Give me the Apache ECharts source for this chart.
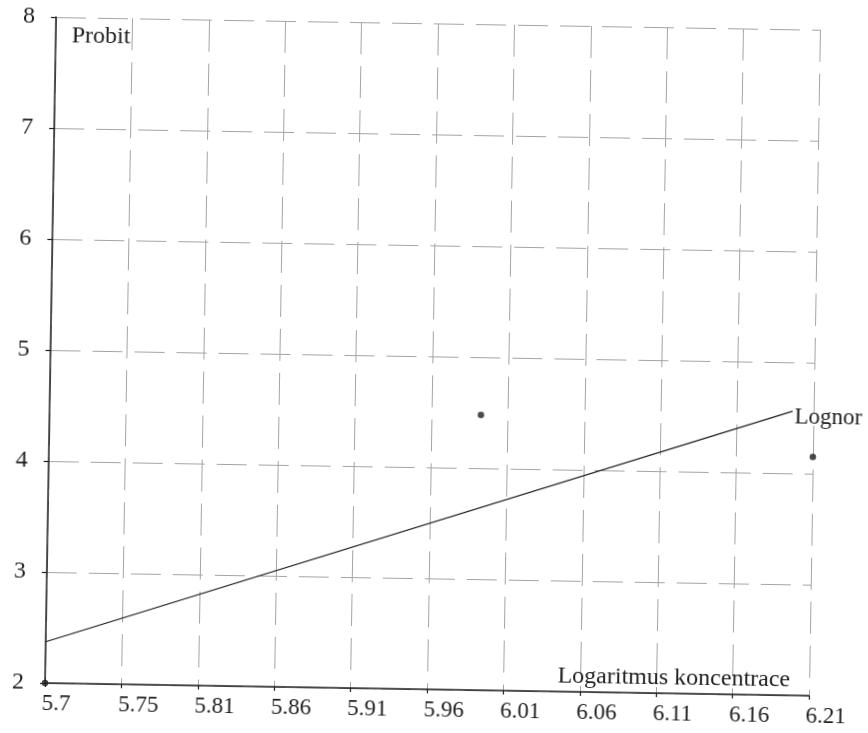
<!DOCTYPE html>
<html>
<head>
<meta charset="utf-8">
<script src="https://cdn.jsdelivr.net/npm/echarts@6/dist/echarts.min.js"></script>
<style>
  html, body { margin: 0; padding: 0; background: #ffffff; }
  #chart {
    width: 868px; height: 733px;
    /* the printed sheet sits slightly askew */
    transform: rotate(0.95deg);
    transform-origin: 45px 683px;
  }
</style>
</head>
<body>
<div id="chart"></div>
<script>
// Axis tick labels (log concentration), evenly spaced between the ends
const xTickLabels = ['5.7', '5.75', '5.81', '5.86', '5.91', '5.96', '6.01', '6.06', '6.11', '6.16', '6.21'];
const xMin = 5.7;
const xMax = 6.21;
const yMin = 2;
const yMax = 8;

// Observed probits
const obsX = [5.7, 5.988, 6.21];
const obsY = [2.0, 4.48, 4.15];

// Fitted log-normal probit line
const fitX = [5.7, 6.196];
const fitY = [2.372, 4.56];

const xStep = (xMax - xMin) / (xTickLabels.length - 1);
const xTickValues = xTickLabels.map((_, i) => xMin + i * xStep);

const serif = 'Liberation Serif';
const ink = '#1e1e1e';
const gridColor = '#a4a4a4';

const chart = echarts.init(document.getElementById('chart'), null, { renderer: 'canvas' });

chart.setOption({
  backgroundColor: '#ffffff',
  animation: false,
  grid: { left: 45, top: 17, width: 764, height: 666, containLabel: false },
  xAxis: {
    type: 'value',
    min: xMin,
    max: xMax,
    name: 'Logaritmus koncentrace',
    nameLocation: 'end',
    nameGap: -19,
    nameTextStyle: {
      fontFamily: serif, fontSize: 24, color: ink,
      align: 'right', verticalAlign: 'bottom', padding: [0, 0, 3, 0]
    },
    axisLine: { show: true, onZero: false, lineStyle: { color: ink, width: 1.5 } },
    axisTick: {
      show: true, inside: false, length: 4,
      customValues: xTickValues,
      lineStyle: { color: ink, width: 1.2 }
    },
    axisLabel: {
      customValues: xTickValues,
      fontFamily: serif, fontSize: 23, color: ink,
      margin: 9, align: 'left', padding: [0, 0, 0, -3],
      formatter: v => xTickLabels[Math.round((v - xMin) / xStep)]
    },
    splitLine: {
      show: true,
      lineStyle: { color: gridColor, width: 1, type: [32, 12] }
    }
  },
  yAxis: {
    type: 'value',
    min: yMin,
    max: yMax,
    interval: 1,
    name: 'Probit',
    nameLocation: 'end',
    nameGap: -7,
    nameTextStyle: {
      fontFamily: serif, fontSize: 24, color: ink,
      align: 'left', verticalAlign: 'top', padding: [0, 0, 0, 16]
    },
    axisLine: { show: true, onZero: false, lineStyle: { color: ink, width: 1.5 } },
    axisTick: { show: true, inside: false, length: 5, lineStyle: { color: ink, width: 1.2 } },
    axisLabel: { fontFamily: serif, fontSize: 24, color: ink, margin: 21 },
    splitLine: {
      show: true,
      lineStyle: { color: gridColor, width: 1, type: [30, 12] }
    }
  },
  series: [
    {
      name: 'Lognor',
      type: 'line',
      data: fitX.map((x, i) => [x, fitY[i]]),
      showSymbol: false,
      symbol: 'none',
      lineStyle: { color: ink, width: 1.2 },
      endLabel: {
        show: true,
        formatter: '{a}',
        fontFamily: serif, fontSize: 23, color: ink,
        distance: 2, offset: [0, 6]
      },
      z: 3
    },
    {
      name: 'Probit',
      type: 'scatter',
      data: obsX.map((x, i) => [x, obsY[i]]),
      symbol: 'circle',
      symbolSize: 6.5,
      itemStyle: { color: ink },
      clip: false,
      z: 4
    }
  ]
});
</script>
</body>
</html>
